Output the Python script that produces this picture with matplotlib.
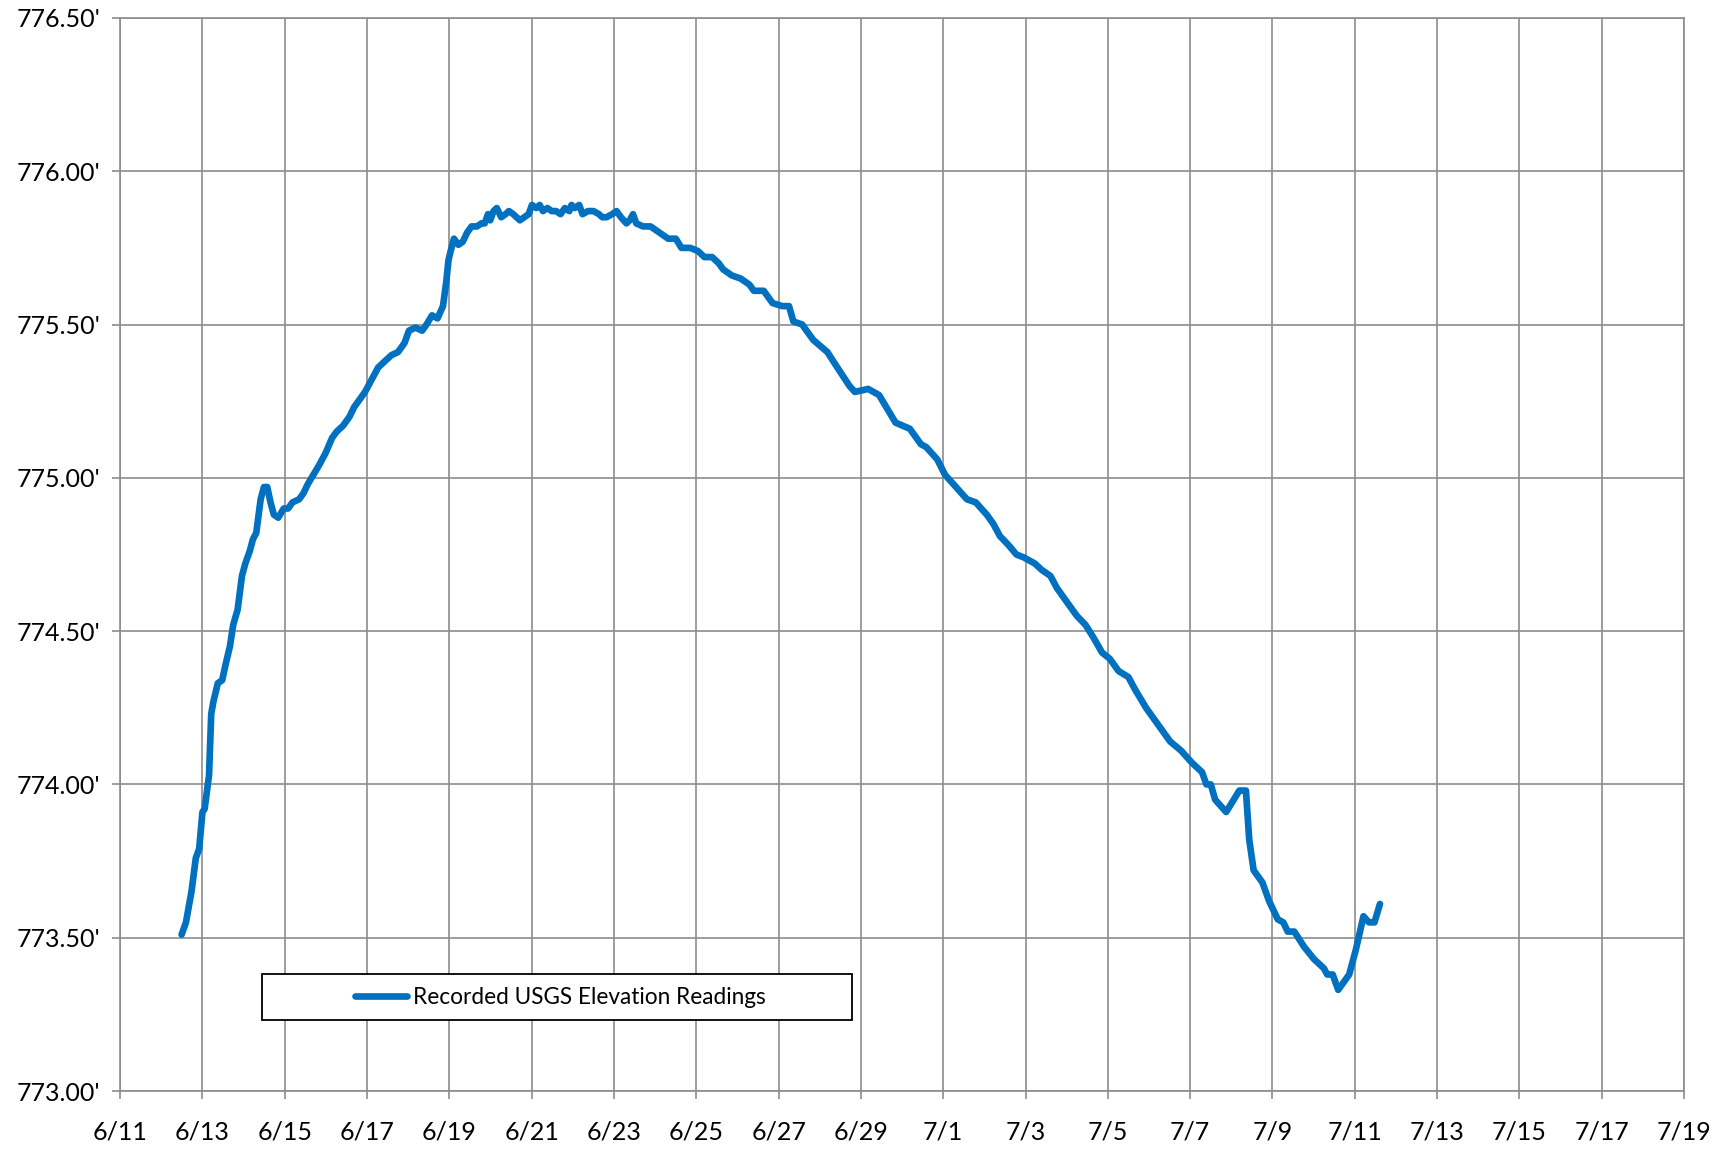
import numpy as np
import matplotlib
matplotlib.use("Agg")
import matplotlib.pyplot as plt
from matplotlib.patches import Rectangle

plt.rcParams['font.family'] = ['Lato', 'DejaVu Sans']

# elevation readings, x = days since 6/11 00:00
days = [1.495, 1.601, 1.735, 1.841, 1.922, 2.002, 2.055, 2.162, 2.215, 2.268,
        2.375, 2.482, 2.562, 2.669, 2.749, 2.856, 2.962, 3.042, 3.149, 3.229,
        3.309, 3.416, 3.496, 3.576, 3.656, 3.736, 3.843, 3.977, 4.083, 4.190,
        4.350, 4.457, 4.564, 4.697, 4.831, 4.991, 5.151, 5.258, 5.418, 5.578,
        5.685, 5.845, 5.951, 6.112, 6.272, 6.432, 6.592, 6.752, 6.912, 7.019,
        7.179, 7.339, 7.446, 7.579, 7.713, 7.846, 7.926, 7.980, 8.033, 8.113,
        8.220, 8.327, 8.433, 8.540, 8.674, 8.780, 8.860, 8.940, 8.994, 9.074,
        9.154, 9.261, 9.367, 9.448, 9.554, 9.634, 9.714, 9.821, 9.928, 10.008,
        10.115, 10.195, 10.275, 10.382, 10.488, 10.595, 10.702, 10.809, 10.915, 10.969,
        11.049, 11.156, 11.236, 11.369, 11.503, 11.636, 11.716, 11.823, 11.956, 12.063,
        12.170, 12.303, 12.383, 12.463, 12.543, 12.704, 12.890, 13.104, 13.317, 13.504,
        13.638, 13.851, 14.038, 14.198, 14.385, 14.545, 14.652, 14.865, 15.079, 15.292,
        15.399, 15.639, 15.853, 16.093, 16.253, 16.360, 16.573, 16.840, 17.187, 17.427,
        17.721, 17.854, 18.175, 18.441, 18.842, 19.189, 19.456, 19.589, 19.856, 20.043,
        20.310, 20.576, 20.790, 21.057, 21.217, 21.377, 21.591, 21.777, 21.964, 22.231,
        22.391, 22.605, 22.765, 22.978, 23.245, 23.459, 23.646, 23.859, 24.046, 24.260,
        24.500, 24.660, 24.927, 25.247, 25.514, 25.781, 26.048, 26.288, 26.395, 26.501,
        26.608, 26.875, 27.195, 27.355, 27.435, 27.542, 27.756, 27.916, 28.129, 28.263,
        28.370, 28.530, 28.770, 29.010, 29.250, 29.330, 29.463, 29.597, 29.864, 30.024,
        30.211, 30.344, 30.478, 30.611]

elev = [773.51, 773.55, 773.65, 773.76, 773.79, 773.91, 773.92, 774.03, 774.23, 774.27,
        774.33, 774.34, 774.39, 774.45, 774.52, 774.57, 774.68, 774.72, 774.76, 774.80,
        774.82, 774.93, 774.97, 774.97, 774.92, 774.88, 774.87, 774.90, 774.90, 774.92,
        774.93, 774.95, 774.98, 775.01, 775.04, 775.08, 775.13, 775.15, 775.17, 775.20,
        775.23, 775.26, 775.28, 775.32, 775.36, 775.38, 775.40, 775.41, 775.44, 775.48,
        775.49, 775.48, 775.50, 775.53, 775.52, 775.56, 775.64, 775.71, 775.74, 775.78,
        775.76, 775.77, 775.80, 775.82, 775.82, 775.83, 775.83, 775.86, 775.84, 775.87,
        775.88, 775.85, 775.86, 775.87, 775.86, 775.85, 775.84, 775.85, 775.86, 775.89,
        775.88, 775.89, 775.87, 775.88, 775.87, 775.87, 775.86, 775.88, 775.87, 775.89,
        775.88, 775.89, 775.86, 775.87, 775.87, 775.86, 775.85, 775.85, 775.86, 775.87,
        775.85, 775.83, 775.84, 775.86, 775.83, 775.82, 775.82, 775.80, 775.78, 775.78,
        775.75, 775.75, 775.74, 775.72, 775.72, 775.70, 775.68, 775.66, 775.65, 775.63,
        775.61, 775.61, 775.57, 775.56, 775.56, 775.51, 775.50, 775.45, 775.41, 775.36,
        775.30, 775.28, 775.29, 775.27, 775.18, 775.16, 775.11, 775.10, 775.06, 775.01,
        774.97, 774.93, 774.92, 774.88, 774.85, 774.81, 774.78, 774.75, 774.74, 774.72,
        774.70, 774.68, 774.64, 774.60, 774.55, 774.52, 774.48, 774.43, 774.41, 774.37,
        774.35, 774.31, 774.25, 774.19, 774.14, 774.11, 774.07, 774.04, 774.00, 774.00,
        773.95, 773.91, 773.98, 773.98, 773.82, 773.72, 773.68, 773.62, 773.56, 773.55,
        773.52, 773.52, 773.47, 773.43, 773.40, 773.38, 773.38, 773.33, 773.38, 773.46,
        773.57, 773.55, 773.55, 773.61]

x_tick_labels = ['6/11', '6/13', '6/15', '6/17', '6/19', '6/21', '6/23', '6/25', '6/27', '6/29',
                 '7/1', '7/3', '7/5', '7/7', '7/9', '7/11', '7/13', '7/15', '7/17', '7/19']
y_ticks = [773.0, 773.5, 774.0, 774.5, 775.0, 775.5, 776.0, 776.5]
series_label = 'Recorded USGS Elevation Readings'

fig = plt.figure(figsize=(17.2, 11.5), dpi=100)
ax = fig.add_axes([0.0698, 0.0513, 0.9093, 0.9331])

line, = ax.plot(days, elev, color='#0070C0', lw=4.8, solid_joinstyle='round',
                solid_capstyle='round', label=series_label, zorder=3)

ax.set_xlim(0, 38)
ax.set_ylim(773.0, 776.5)
ax.set_xticks(np.arange(0, 39, 2))
ax.set_xticklabels(x_tick_labels)
ax.set_yticks(y_ticks)
ax.set_yticklabels([f"{v:.2f}'" for v in y_ticks])

grid_col = '#8c8c8c'
ax.grid(True, color=grid_col, lw=1.2)
ax.set_axisbelow(True)
for s in ax.spines.values():
    s.set_color(grid_col)
    s.set_linewidth(1.2)
ax.tick_params(axis='both', colors=grid_col, width=1.2, length=6, labelsize=18,
               labelcolor='black')
ax.tick_params(axis='x', pad=15)
ax.tick_params(axis='y', pad=8)

# legend box
ax.add_patch(Rectangle((0.0908, 0.066), 0.377, 0.043, transform=ax.transAxes,
                       facecolor='white', edgecolor='black', lw=1.3, zorder=4))
ax.legend(handles=[line], loc='center', bbox_to_anchor=(0.2815, 0.0875),
          frameon=False, fontsize=16.3, handlelength=2.3, handletextpad=0.3
          ).set_zorder(5)

fig.savefig('out.png', dpi=100)
